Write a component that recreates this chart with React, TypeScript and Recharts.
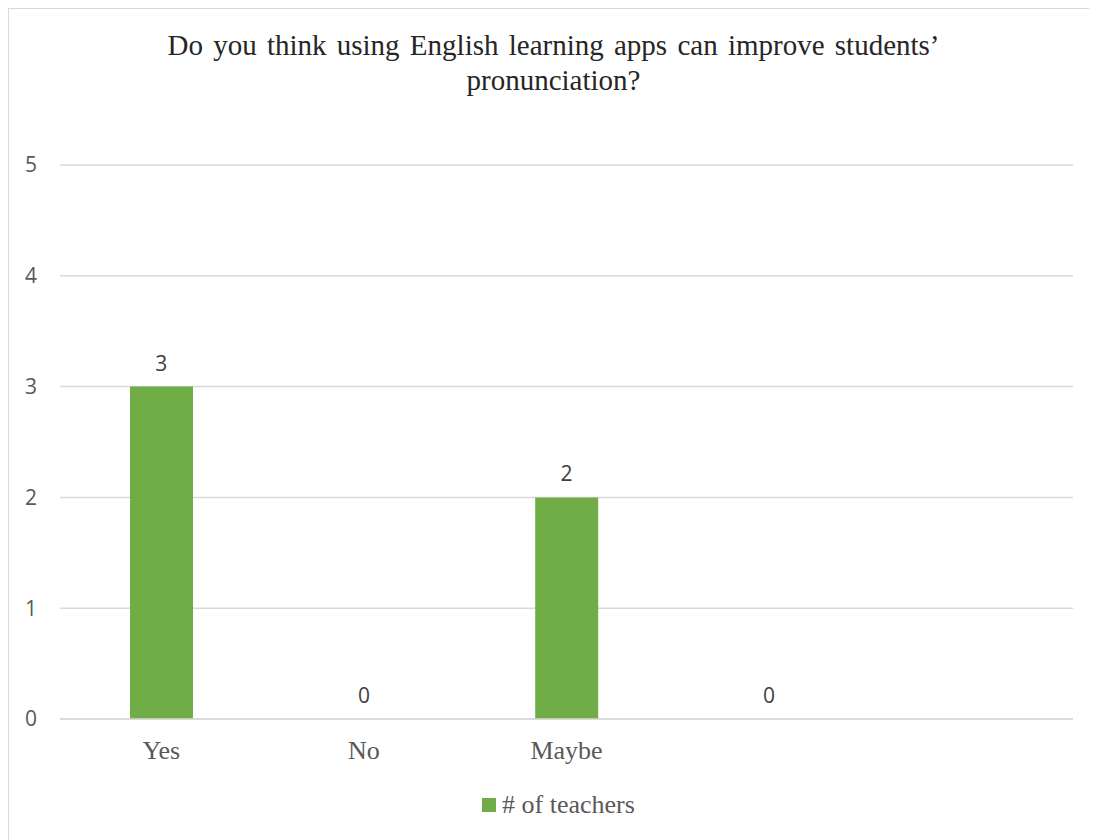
import React from 'react';
import { ComposedChart, Bar, Line, XAxis, YAxis, CartesianGrid, Legend, LabelList } from 'recharts';

const titleLines = ['Do you think using English learning apps can improve students’', 'pronunciation?'];
const categories = ['Yes', 'No', 'Maybe', ' ', '  '];
const teachers: (number | null)[] = [3, 0, 2, 0, null];
const yTicks = [0, 1, 2, 3, 4, 5];
const seriesName = '# of teachers';

const data = categories.map((c, i) => ({ cat: c, teachers: teachers[i] }));

const SERIF = '"Liberation Serif", "Times New Roman", serif';
const SANS = '"Open Sans", "Noto Sans", sans-serif';
const GREEN = '#70AD47';

const LegendContent = () => (
  <div style={{ display: 'flex', justifyContent: 'center', alignItems: 'center', width: 1089, paddingLeft: 10, boxSizing: 'border-box' }}>
    <span style={{ display: 'inline-block', width: 14, height: 14, background: GREEN, marginRight: 6 }} />
    <span style={{ fontFamily: SERIF, fontSize: 26, color: '#595959', lineHeight: '30px' }}>{seriesName}</span>
  </div>
);

export default function App() {
  return (
    <div style={{ position: 'relative', width: 1089, height: 832, border: '1px solid #d9d9d9', background: '#fff' }}>
      <div style={{ position: 'absolute', top: 19, left: 0, width: 1089, textAlign: 'center', fontFamily: SERIF, fontSize: 29, lineHeight: '35px', wordSpacing: 3, color: '#262626' }}>
        {titleLines.map((l, i) => (
          <div key={i}>{l}</div>
        ))}
      </div>
      <ComposedChart width={1089} height={832} data={data} margin={{ top: 156, right: 25, left: 0, bottom: 82 }}>
        <CartesianGrid vertical={false} stroke="#d9d9d9" strokeWidth={1.5} />
        <XAxis
          dataKey="cat"
          height={40}
          tickLine={false}
          tickSize={0}
          tickMargin={22}
          axisLine={{ stroke: '#d9d9d9', strokeWidth: 1.5 }}
          tick={{ fill: '#595959', fontSize: 26, fontFamily: SERIF }}
          interval={0}
        />
        <YAxis
          width={51}
          domain={[0, 5]}
          ticks={yTicks}
          axisLine={false}
          tickLine={false}
          tickSize={0}
          tickMargin={23}
          tick={{ fill: '#595959', fontSize: 21, fontFamily: SANS }}
        />
        <Legend
          layout="horizontal"
          verticalAlign="middle"
          align="center"
          wrapperStyle={{ top: 781, left: 0, width: 1089 }}
          content={<LegendContent />}
        />
        <Bar dataKey="teachers" name={seriesName} fill={GREEN} barSize={63} isAnimationActive={false} />
        <Line
          dataKey="teachers"
          stroke="none"
          dot={false}
          activeDot={false}
          legendType="none"
          isAnimationActive={false}
        >
          <LabelList
            dataKey="teachers"
            position="top"
            offset={16}
            fill="#404040"
            fontSize={21}
            fontFamily={SANS}
            formatter={(v: any) => (v === null || v === undefined ? '' : v)}
          />
        </Line>
      </ComposedChart>
    </div>
  );
}
